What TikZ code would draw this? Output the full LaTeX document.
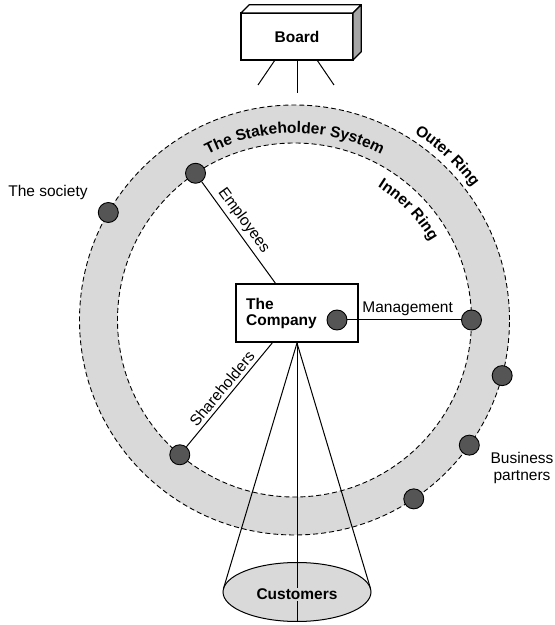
\documentclass[tikz,border=0pt]{standalone}
\usepackage{fontspec}
\setmainfont{Liberation Sans}
\usetikzlibrary{shapes.geometric,decorations.text,calc}
\definecolor{ringgray}{HTML}{D9D9D9}
\definecolor{dotgray}{HTML}{555555}
\definecolor{sidegray}{HTML}{A6A6A6}
\newcommand\labelsize{\fontsize{15.5}{17.5}\selectfont}

\tikzset{
  ringedge/.style={dash pattern=on 5pt off 3pt, line width=0.9pt},
  link/.style={line width=1pt},
  dot/.style={circle, draw, line width=0.9pt, fill=dotgray, minimum size=20pt, inner sep=0pt},
  plainlabel/.style={font=\labelsize},
  boldlabel/.style={font=\labelsize\bfseries},
  companybox/.style={draw, line width=2pt, fill=white, minimum width=122pt, minimum height=58pt, inner sep=0pt},
  boardbox/.style={draw, line width=1.2pt, fill=white, minimum width=112pt, minimum height=47pt, outer sep=0pt, font=\labelsize\bfseries},
  customerbox/.style={ellipse, draw, line width=1pt, fill=ringgray, minimum width=148pt, minimum height=59pt, inner sep=0pt},
  arctext/.style={decorate, decoration={text along path, text align=center, text={|\labelsize\bfseries|#1}}}
}

\begin{document}
\begin{tikzpicture}[x=1pt, y=1pt]
  \useasboundingbox (0,0) rectangle (555,625);

  % centre of the stakeholder rings
  \coordinate (C) at (294.5,305);

  % grey band between the inner and the outer ring
  \fill[ringgray, even odd rule] (C) circle[radius=215pt] (C) circle[radius=177pt];
  \draw[ringedge] (C) circle[radius=215pt];
  \draw[ringedge] (C) circle[radius=177pt];

  % curved ring titles
  \path[arctext={The Stakeholder System}]
    ([shift={(150:187pt)}]C) arc[start angle=150, end angle=30, radius=187pt];
  \path[arctext={Outer Ring}]
    ([shift={(75:222pt)}]C) arc[start angle=75, end angle=19, radius=222pt];
  \path[arctext={Inner Ring}]
    ([shift={(72:157pt)}]C) arc[start angle=72, end angle=16, radius=157pt];

  % the company
  \node[companybox] (company) at (297,312) {};
  \node[boldlabel, anchor=west, align=left, inner sep=0pt] (companytext) at (246,312) {The\\[-1.5pt]Company};

  % customers
  \node[customerbox] (customers) at (297,33) {};
  \coordinate (coneL) at (223.5,36.5);
  \coordinate (coneR) at (370.5,36.5);
  \draw[link] (company.south) -- (coneL);
  \draw[link] (company.south) -- (coneR);
  \draw[link] (company.south) -- (customers.south);
  \node[boldlabel, fill=ringgray, inner sep=1.5pt] (customerlabel) at (297,30.5) {Customers};

  % stakeholders on the rings
  \node[dot] (society) at ([shift={(150:215pt)}]C) {};
  \node[dot] (emp) at ([shift={(124:177pt)}]C) {};
  \node[dot] (mgmt) at ([shift={(0:177pt)}]C) {};
  \node[dot] (share) at ([shift={(229.6:177pt)}]C) {};
  \node[dot] (bpA) at ([shift={(-15:215pt)}]C) {};
  \node[dot] (bpB) at ([shift={(-35.6:215pt)}]C) {};
  \node[dot] (bpC) at ([shift={(-56.3:215pt)}]C) {};
  \node[dot] (cdot) at (337,305) {};

  % links to the company
  \draw[link] (emp) -- node[plainlabel, sloped, above, pos=0.45] {Employees} (company);
  \draw[link] (share) -- node[plainlabel, sloped, above, pos=0.5] {Shareholders} (company);
  \draw[link] (cdot) -- node[plainlabel, above, pos=0.53] {Management} (mgmt);

  % outside labels
  \node[plainlabel] (societylabel) at (48,433) {The society};
  \node[plainlabel, align=center] (bplabel) at (522,157) {Business\\partners};

  % the board, drawn as a block
  \node[boardbox] (board) at (297,588.5) {Board};
  \filldraw[line width=1.2pt, fill=white, line join=round]
    (board.north west) -- ++(8.3,8.3) -- ++(112,0) -- (board.north east) -- cycle;
  \filldraw[line width=1.2pt, fill=sidegray, line join=round]
    (board.north east) -- ++(8.3,8.3) -- ++(0,-47) -- (board.south east) -- cycle;
  \coordinate (legL) at (258,540);
  \coordinate (legM) at (297,532);
  \coordinate (legR) at (334,540);
  \draw[link] ([xshift=-22pt]board.south) -- (legL);
  \draw[link] (board.south) -- (legM);
  \draw[link] ([xshift=20pt]board.south) -- (legR);
\end{tikzpicture}
\end{document}
